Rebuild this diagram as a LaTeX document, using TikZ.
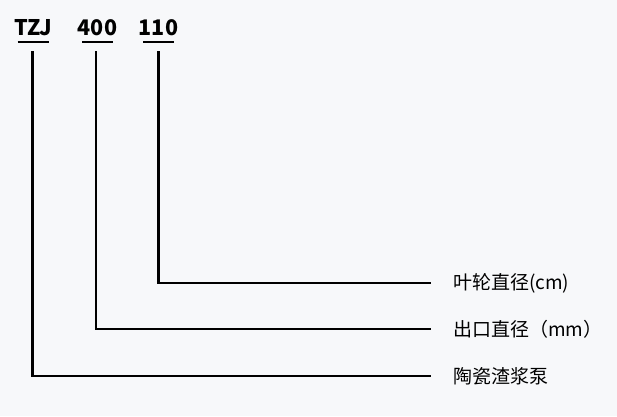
\documentclass[tikz,border=0pt]{standalone}
\usepackage{fontspec}
\usepackage{xcolor}
\usepackage{tikz}
\usetikzlibrary{positioning, calc}
\setmainfont{Noto Sans CJK SC}
\definecolor{bgcol}{RGB}{247,248,250}

\begin{document}
\begin{tikzpicture}[
    x=1pt, y=-1pt,
    code/.style={
        anchor=base, inner xsep=0pt, inner ysep=0pt, outer sep=0pt,
        font=\fontsize{21.5}{25}\selectfont\bfseries
    },
    desc/.style={
        anchor=west, inner xsep=22pt, inner ysep=0pt, outer sep=0pt,
        font=\fontsize{19}{23}\selectfont
    },
    uline/.style={line width=2.8pt, draw=black},
    lead/.style={line width=2.8pt, draw=black}
]

% Background and margins
\fill[bgcol] (0,0) rectangle (617,416);
\useasboundingbox (0,0) rectangle (617,416);

% ---- Model code ----
\node[code] (tzj)  at (33.5,35) {TZJ};
\node[code] (n400) at (97.5,35)   {400};
\node[code] (n110) at (158.5,35) {110};

% Underlines
\draw[uline] ($(tzj.base)+(-16,7)$)  -- ($(tzj.base)+(15,7)$);
\draw[uline] ($(n400.base)+(-15.5,7)$) -- ($(n400.base)+(15.5,7)$);
\draw[uline] ($(n110.base)+(-15.5,7)$) -- ($(n110.base)+(15.5,7)$);

% ---- Meanings ----
\node[desc] (d110) at (431,283) {叶轮直径(cm)};
\node[desc] (d400) at (431,329) {出口直径（mm）};
\node[desc] (dtzj) at (431,376) {陶瓷渣浆泵};

% Leader lines
\draw[lead] ($(n110.base)+(0,16)$) |- (d110.west);
\draw[lead] ($(n400.base)+(-1.5,16)$) |- (d400.west);
\draw[lead] ($(tzj.base)+(-1,16)$) |- (dtzj.west);

\end{tikzpicture}
\end{document}
